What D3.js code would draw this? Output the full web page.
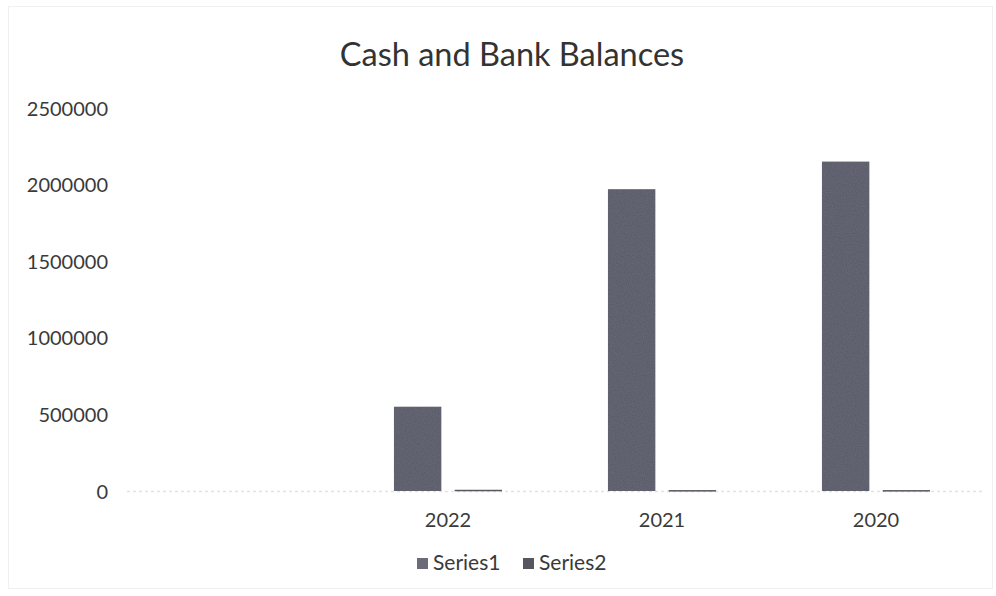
<!DOCTYPE html>
<html>
<head>
<meta charset="utf-8">
<script src="https://cdn.jsdelivr.net/npm/d3@7"></script>
<style>
  html, body { margin: 0; padding: 0; background: #fff; }
  svg { display: block; }
  text { font-family: Lato, "Open Sans", sans-serif; fill: #3a3a3a; }
</style>
</head>
<body>
<svg id="chart" width="996" height="596"></svg>
<script>
// Cash and bank balances by year (first slot has no label and no values)
const categories = ["", "2022", "2021", "2020"];
const series1 = [0, 550000, 1970000, 2150000];
const series2 = [0, 8000, 6000, 6000];
const seriesNames = ["Series1", "Series2"];
const yTicks = [0, 500000, 1000000, 1500000, 2000000, 2500000];

const svg = d3.select("#chart");
const W = 996, H = 596;
const plot = { left: 127, right: 983, top: 108, bottom: 491 };

// faint outer chart border
svg.append("rect")
  .attr("x", 8.5).attr("y", 6.5).attr("width", W - 12).attr("height", H - 14)
  .attr("fill", "none").attr("stroke", "#f0f0f0").attr("stroke-width", 1);

const x0 = d3.scaleBand().domain(categories.map((d, i) => i))
  .range([plot.left, plot.right]).paddingInner(0.495).paddingOuter(0.2475);
const x1 = d3.scaleBand().domain([0, 1]).range([0, x0.bandwidth()]).paddingInner(0.22);
const y = d3.scaleLinear().domain([0, 2500000]).range([plot.bottom, plot.top]);

// title
svg.append("text")
  .attr("x", 512).attr("y", 66).attr("text-anchor", "middle")
  .style("font-size", "32.5px").style("fill", "#333")
  .text("Cash and Bank Balances");

// y axis labels (no axis line, no gridlines)
const yAxis = d3.axisLeft(y).tickValues(yTicks).tickSize(0).tickPadding(0)
  .tickFormat(d3.format("d"));
const gy = svg.append("g").attr("transform", `translate(108,0)`).call(yAxis);
gy.select(".domain").remove();
gy.selectAll("text").style("font-size", "20px").style("font-family", "Lato, sans-serif")
  .attr("fill", "#3a3a3a").attr("dy", "0.35em");

// baseline
svg.append("line")
  .attr("x1", plot.left).attr("x2", plot.right)
  .attr("y1", y(0) + 0.5).attr("y2", y(0) + 0.5)
  .attr("stroke", "#e2e2e2").attr("stroke-width", 1.5).attr("stroke-dasharray", "3,3");

// x axis labels
const xAxis = d3.axisBottom(x0).tickSize(0).tickPadding(0)
  .tickFormat(i => categories[i]);
const gx = svg.append("g").attr("transform", `translate(0,${plot.bottom + 22})`).call(xAxis);
gx.select(".domain").remove();
gx.selectAll("text").style("font-size", "20px").style("font-family", "Lato, sans-serif")
  .attr("fill", "#3a3a3a").attr("dy", "0.71em");

// grain texture for the bars
const defs = svg.append("defs");
const filt = defs.append("filter").attr("id", "grain").attr("x", 0).attr("y", 0)
  .attr("width", 1).attr("height", 1);
filt.append("feTurbulence").attr("type", "fractalNoise").attr("baseFrequency", 0.9)
  .attr("numOctaves", 2).attr("seed", 3).attr("result", "noise");
filt.append("feColorMatrix").attr("in", "noise").attr("type", "matrix")
  .attr("values", "0 0 0 0 0  0 0 0 0 0  0 0 0 0 0  0 0 0 0.35 0").attr("result", "dark");
filt.append("feComposite").attr("in", "dark").attr("in2", "SourceGraphic")
  .attr("operator", "in").attr("result", "darkIn");
filt.append("feMerge").call(m => {
  m.append("feMergeNode").attr("in", "SourceGraphic");
  m.append("feMergeNode").attr("in", "darkIn");
});

const colors = ["#6a6c7a", "#55565f"];
const allSeries = [series1, series2];

allSeries.forEach((vals, s) => {
  svg.append("g").selectAll("rect")
    .data(vals.map((v, i) => ({ v, i })).filter(d => d.v > 0))
    .join("rect")
    .attr("x", d => x0(d.i) + x1(s))
    .attr("width", x1.bandwidth())
    .attr("y", d => y(d.v))
    .attr("height", d => Math.max(1.5, y(0) - y(d.v)))
    .attr("fill", colors[s])
    .attr("filter", s === 0 ? "url(#grain)" : null);
});

// legend
const legend = svg.append("g").attr("transform", "translate(417,563)");
const items = [{ name: seriesNames[0], x: 0 }, { name: seriesNames[1], x: 106 }];
items.forEach((it, s) => {
  legend.append("rect").attr("x", it.x).attr("y", -5).attr("width", 11).attr("height", 11)
    .attr("fill", colors[s]);
  legend.append("text").attr("x", it.x + 16).attr("y", 0).attr("dy", "0.35em")
    .style("font-size", "21px").text(it.name);
});
</script>
</body>
</html>
